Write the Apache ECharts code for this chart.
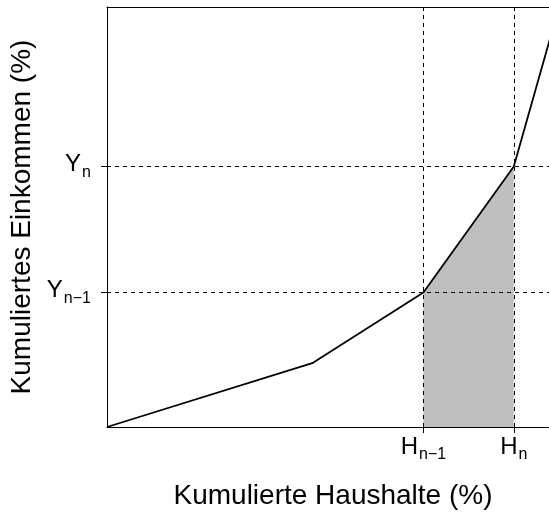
<!DOCTYPE html>
<html>
<head>
<meta charset="utf-8">
<script src="https://cdn.jsdelivr.net/npm/echarts@6/dist/echarts.min.js"></script>
<style>
  html, body { margin: 0; padding: 0; background: #fff; }
  #chart { width: 549px; height: 517px; }
</style>
</head>
<body>
<div id="chart"></div>
<script>
// Lorenz-Kurve: kumulierte Haushalte (x) gegen kumuliertes Einkommen (y)
const haushalte = [0, 45.4, 70, 90, 100];
const einkommen = [0, 15.2, 32, 62, 100];

// markierte Stellen auf den Achsen
const xTicks = [70, 90];
const xTickLabels = ['{b|H}{s|n\u22121}', '{b|H}{s|n}'];
const yTicks = [32, 62];
const yTickLabels = ['{b|Y}{s|n\u22121}', '{b|Y}{s|n}'];

const richSub = {
  b: { fontSize: 24, color: '#000', fontFamily: 'Liberation Sans', lineHeight: 28, verticalAlign: 'top' },
  s: { fontSize: 16, color: '#000', fontFamily: 'Liberation Sans', lineHeight: 18, verticalAlign: 'top', padding: [12, 0, 0, 1] }
};

const chart = echarts.init(document.getElementById('chart'));

const linePoints = haushalte.map((h, i) => [h, einkommen[i]]);
const areaPoints = [[xTicks[0], yTicks[0]], [xTicks[1], yTicks[1]]];

chart.setOption({
  animation: false,
  grid: {
    left: 107,
    top: 7,
    right: -10,
    bottom: 90,
    outerBoundsMode: 'none',
    containLabel: false,
    show: false
  },
  xAxis: [{
    type: 'value',
    min: 0,
    max: 100,
    name: 'Kumulierte Haushalte (%)',
    nameLocation: 'middle',
    nameGap: 55,
    nameTextStyle: { fontSize: 28, color: '#000', fontFamily: 'Liberation Sans' },
    splitLine: { show: false },
    axisLine: { show: true, onZero: false, lineStyle: { color: '#000', width: 1 } },
    axisTick: {
      show: true,
      length: 6,
      customValues: xTicks,
      lineStyle: { color: '#000', width: 1 }
    },
    axisLabel: {
      customValues: xTicks,
      margin: 8,
      formatter: v => xTickLabels[xTicks.indexOf(v)],
      rich: richSub
    }
  }, {
    // obere Rahmenlinie
    type: 'value',
    position: 'top',
    min: 0,
    max: 100,
    splitLine: { show: false },
    axisLine: { show: true, onZero: false, lineStyle: { color: '#000', width: 1 } },
    axisTick: { show: false },
    axisLabel: { show: false }
  }],
  yAxis: {
    type: 'value',
    min: 0,
    max: 100,
    name: 'Kumuliertes Einkommen (%)',
    nameLocation: 'middle',
    nameGap: 63,
    nameTextStyle: { fontSize: 28, color: '#000', fontFamily: 'Liberation Sans' },
    splitLine: { show: false },
    axisLine: { show: true, onZero: false, lineStyle: { color: '#000', width: 1 } },
    axisTick: {
      show: true,
      length: 6,
      customValues: yTicks,
      lineStyle: { color: '#000', width: 1 }
    },
    axisLabel: {
      customValues: yTicks,
      margin: 16,
      formatter: v => yTickLabels[yTicks.indexOf(v)],
      rich: richSub
    }
  },
  series: [
    {
      name: 'Flaeche',
      type: 'line',
      data: areaPoints,
      symbol: 'none',
      lineStyle: { width: 0 },
      areaStyle: { color: '#bebebe', opacity: 1 },
      z: 1,
      silent: true
    },
    {
      name: 'Lorenzkurve',
      type: 'line',
      data: linePoints,
      symbol: 'none',
      lineStyle: { color: '#000', width: 1.8 },
      z: 3,
      markLine: {
        silent: true,
        symbol: 'none',
        label: { show: false },
        lineStyle: { color: '#000', width: 1, type: [4, 4] },
        data: [
          { xAxis: xTicks[0] },
          { xAxis: xTicks[1] },
          { yAxis: yTicks[0] },
          { yAxis: yTicks[1] }
        ]
      }
    }
  ]
});
</script>
</body>
</html>
